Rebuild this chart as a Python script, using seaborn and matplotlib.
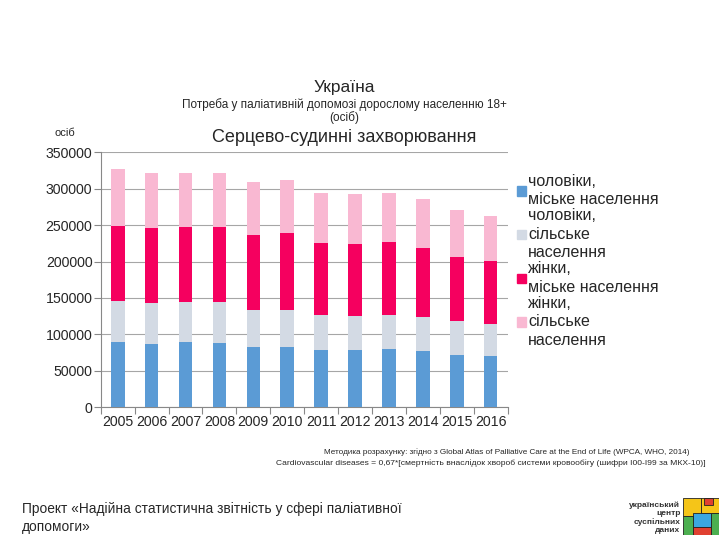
import numpy as np
import pandas as pd
import matplotlib
matplotlib.use("Agg")
import matplotlib.pyplot as plt
import matplotlib.patches as mpatches
import seaborn as sns

years = ["2005", "2006", "2007", "2008", "2009", "2010", "2011", "2012", "2013", "2014", "2015", "2016"]
men_urban = [89100, 87300, 89100, 88200, 82700, 83100, 79000, 78500, 79500, 76700, 71700, 69800]
men_rural = [56900, 55500, 55100, 55600, 51400, 50600, 47800, 47300, 47700, 46900, 46300, 45000]
women_urban = [103400, 103800, 103800, 104200, 102000, 105100, 99200, 98800, 99700, 95500, 88700, 85500]
women_rural = [77600, 75400, 74000, 73500, 73500, 73500, 68400, 67500, 67500, 66100, 63800, 62400]

series_names = ["чоловіки,\nміське населення", "чоловіки,\nсільське\nнаселення",
                "жінки,\nміське населення", "жінки,\nсільське\nнаселення"]
colors = ["#5B9BD5", "#D3DAE4", "#F5005F", "#F9B8D2"]
y_ticks = [0, 50000, 100000, 150000, 200000, 250000, 300000, 350000]

sns.set_theme(style="white")
plt.rcParams['font.family'] = ['Liberation Sans', 'DejaVu Sans']

df = pd.DataFrame({"year": years, "s0": men_urban, "s1": men_rural,
                   "s2": women_urban, "s3": women_rural})
cum = df[["s0", "s1", "s2", "s3"]].cumsum(axis=1)

fig = plt.figure(figsize=(7.2, 5.4), dpi=100)
ax = fig.add_axes([0.140, 0.246, 0.565, 0.472])

for i in [3, 2, 1, 0]:
    d = pd.DataFrame({"year": years, "v": cum[f"s{i}"].values})
    sns.barplot(data=d, x="year", y="v", color=colors[i], width=0.4,
                saturation=1, ax=ax, zorder=3, edgecolor="none", linewidth=0)

ax.set_ylim(0, 350000)
ax.set_xlim(-0.5, len(years) - 0.5)
ax.set_yticks(y_ticks)
ax.set_yticklabels([str(v) for v in y_ticks], fontsize=10.2)
ax.tick_params(axis="y", length=5, width=0.8, color="#888888", direction="out", left=True, pad=1)
ax.tick_params(axis="x", length=0, labelsize=10.2, pad=6)
ax.set_xticks(np.arange(-0.5, len(years)), minor=True)
ax.tick_params(axis="x", which="minor", length=5, width=0.8, color="#888888", direction="out", bottom=True)
ax.set_xlabel("")
ax.set_ylabel("")
ax.grid(axis="y", color="#A6A6A6", linewidth=0.8, zorder=0)
for s in ["top", "right"]:
    ax.spines[s].set_visible(False)
for s in ["left", "bottom"]:
    ax.spines[s].set_color("#888888")
    ax.spines[s].set_linewidth(0.8)

handles = [mpatches.Patch(color=c) for c in colors]
leg = fig.legend(handles, series_names, loc="upper left", bbox_to_anchor=(0.709, 0.690),
                 frameon=False, fontsize=11.5, handlelength=0.55, handleheight=0.55,
                 handletextpad=0.15, labelspacing=0.05, borderaxespad=0)
for t in leg.get_texts():
    t.set_linespacing(1.3)

fig.text(0.478, 0.838, "Україна", ha="center", va="center", fontsize=12.5)
fig.text(0.478, 0.806, "Потреба у паліативній допомозі дорослому населенню 18+", ha="center", va="center", fontsize=8.5)
fig.text(0.478, 0.783, "(осіб)", ha="center", va="center", fontsize=8.5)
fig.text(0.478, 0.746, "Серцево-судинні захворювання", ha="center", va="center", fontsize=13)
fig.text(0.076, 0.754, "осіб", ha="left", va="center", fontsize=8)

fig.text(0.957, 0.163, "Методика розрахунку: згідно з Global Atlas of Palliative Care at the End of Life (WPCA, WHO, 2014)",
         ha="right", va="center", fontsize=5.9)
fig.text(0.980, 0.142, "Cardiovascular diseases = 0,67*[смертність внаслідок хвороб системи кровообігу (шифри I00-I99 за МКХ-10)]",
         ha="right", va="center", fontsize=6.1)

fig.text(0.031, 0.041, "Проект «Надійна статистична звітність у сфері паліативної\nдопомоги»",
         ha="left", va="center", fontsize=9.9, linespacing=1.3)

fig.text(0.945, 0.041, "український\nцентр\nсуспільних\nданих", ha="right", va="center",
         fontsize=6, fontweight="bold", linespacing=1.15, color="#333333")
lax = fig.add_axes([0.948, 0.010, 0.050, 0.068])
lax.set_xlim(0, 1)
lax.set_ylim(0, 1)
lax.axis("off")
for (x0, y0, w, h, c) in [(0, 0.5, 0.5, 0.5, "#F5C518"), (0.5, 0.6, 0.5, 0.4, "#F5C518"),
                          (0.6, 0.8, 0.25, 0.2, "#E04030"), (0.3, 0.2, 0.5, 0.4, "#3BA7E0"),
                          (0, 0, 0.3, 0.5, "#4CAF50"), (0.8, 0, 0.2, 0.6, "#4CAF50"),
                          (0.3, 0, 0.5, 0.2, "#E04030")]:
    lax.add_patch(mpatches.Rectangle((x0, y0), w, h, facecolor=c, edgecolor="#222222", linewidth=0.6))

fig.savefig("out.png", dpi=100)
